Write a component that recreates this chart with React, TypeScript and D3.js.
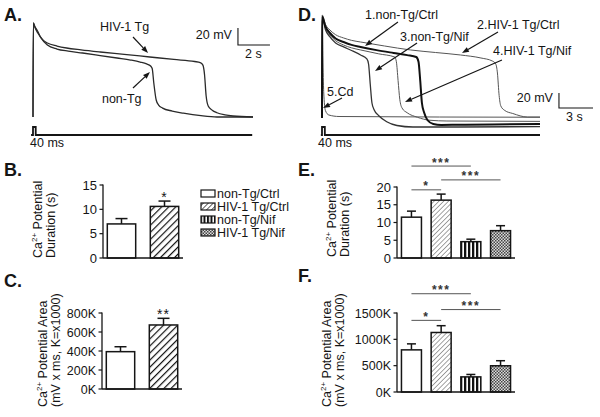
import React from 'react';
import * as d3 from 'd3';

const FONT = '"Liberation Sans", Arial, Helvetica, sans-serif';

// ---------- Panel A traces: [time (s), membrane potential (mV)] ----------
const traceA_HIV: [number, number][] = [
  [0, -80], [0.02, 30.6], [0.15, 24], [0.3, 18.8], [0.6, 11], [0.9, 7], [1.5, 3.5], [2.1, 1.2], [3, -1],
  [4.2, -3.5], [5.7, -6.3], [7.3, -9.4], [8.8, -12.3], [10.1, -14.7], [10.45, -16], [10.62, -19],
  [10.72, -30], [10.82, -55], [10.95, -67], [11.2, -72], [11.5, -75], [12, -77.5], [12.5, -78.8], [13.75, -80],
];
const traceA_nonTg: [number, number][] = [
  [0, -80], [0.02, 30.6], [0.12, 26], [0.25, 22.4], [0.5, 13], [0.9, 4.7], [1.5, 0], [2.2, -2.5], [3.1, -4.7],
  [4.2, -7.7], [5.25, -10.6], [6.1, -13], [6.7, -15.3], [7.1, -17.5], [7.35, -20], [7.45, -23], [7.55, -40],
  [7.7, -60], [7.85, -66], [8.1, -69.5], [8.7, -73], [9.4, -75.5], [10.5, -78.5], [11.5, -80], [13.75, -80],
];
const stimA: [number, number][] = [[-0.12, 0], [0, 0], [0, 1], [0.17, 1], [0.17, 0], [13.7, 0]];

// ---------- Panel D traces ----------
const traceD1: [number, number][] = [
  [0, -80], [0.02, 55], [0.3, 42], [0.7, 33.3], [1.2, 26], [1.9, 21.3], [2.6, 17.5], [3.4, 14.7], [4.8, 10.5],
  [6.3, 6.7], [7.5, 3.8], [8.3, 1.3], [8.5, -5], [8.65, -30], [8.8, -60], [9.0, -73], [9.3, -83], [9.8, -88],
  [10.5, -89.3], [12, -89], [15, -88.5], [19.2, -88],
];
const traceD2: [number, number][] = [
  [0, -80], [0.02, 57.3], [0.3, 45], [0.7, 37.3], [1.2, 31], [1.9, 26.7], [2.6, 23.5], [3.4, 21.3], [5.5, 16],
  [7.8, 10.7], [10, 7.3], [12.2, 4], [14, 0], [15.0, -4], [15.3, -8], [15.45, -20], [15.6, -50], [15.75, -64],
  [16.1, -70], [16.8, -74], [18.1, -78.7], [19.2, -78.7],
];
const traceD3: [number, number][] = [
  [0, -80], [0.02, 55], [0.3, 38], [0.7, 28], [1.2, 20], [1.9, 14.7], [2.6, 10], [3.4, 4], [3.95, -1.3],
  [4.1, -8], [4.25, -35], [4.4, -60], [4.6, -69.3], [5.0, -77], [5.7, -85], [6.6, -90], [8, -92], [12, -92], [19.2, -91.5],
];
const traceD4: [number, number][] = [
  [0, -80], [0.02, 55], [0.3, 40], [0.7, 30.7], [1.2, 23], [1.9, 17.3], [2.6, 13.5], [3.4, 10.7], [5, 5.5],
  [6.4, 1.3], [6.55, -5], [6.7, -30], [6.85, -55], [7.05, -66.7], [7.5, -73], [8.4, -79], [9.5, -83], [11, -84], [19.2, -84.5],
];
const traceD5: [number, number][] = [
  [0, -80], [0.02, 50], [0.08, 0], [0.15, -45], [0.3, -70], [0.6, -76], [1.5, -78], [19.2, -79],
];
const stimD: [number, number][] = [[-0.1, 0], [0, 0], [0, 1], [0.25, 1], [0.25, 0], [19.2, 0]];

// ---------- Bar data ----------
const groups = ['non-Tg/Ctrl', 'HIV-1 Tg/Ctrl', 'non-Tg/Nif', 'HIV-1 Tg/Nif'];
const durB = [7.0, 10.6];
const durBErr = [1.1, 1.1];
const areaC = [393, 674]; // K
const areaCErr = [52, 70];
const durE = [11.5, 16.3, 4.6, 7.7];
const durEErr = [1.7, 1.7, 0.7, 1.4];
const areaF = [800, 1130, 287, 498];
const areaFErr = [114, 129, 46, 96];
const ticksB = [0, 5, 10, 15];
const ticksC = [0, 200, 400, 600, 800];
const ticksE = [0, 5, 10, 15, 20];
const ticksF = [0, 500, 1000, 1500];
const sigE = [
  { a: 0, b: 2, level: 25.9, label: '***' },
  { a: 1, b: 3, level: 22.0, label: '***' },
  { a: 0, b: 1, level: 19.2, label: '*' },
];
const sigF = [
  { a: 0, b: 2, level: 1866, label: '***' },
  { a: 1, b: 3, level: 1565, label: '***' },
  { a: 0, b: 1, level: 1360, label: '*' },
];

const INK = '#151515';

function Arrow({ x1, y1, x2, y2 }: { x1: number; y1: number; x2: number; y2: number }) {
  const ang = Math.atan2(y2 - y1, x2 - x1);
  const L = 7, W = 2.6;
  const bx = x2 - L * Math.cos(ang), by = y2 - L * Math.sin(ang);
  const px = -Math.sin(ang) * W, py = Math.cos(ang) * W;
  return (
    <g>
      <line x1={x1} y1={y1} x2={bx} y2={by} stroke={INK} strokeWidth={1.2} />
      <path d={`M${x2},${y2}L${bx + px},${by + py}L${bx - px},${by - py}Z`} fill={INK} />
    </g>
  );
}

function TracePanel(p: {
  traces: { d: [number, number][]; color: string; w: number }[];
  stim: [number, number][];
  xDom: [number, number]; xRng: [number, number];
  yDom: [number, number]; yRng: [number, number];
  stimY: [number, number];
  labels: { text: string; t: number; v: number; from: [number, number]; to: [number, number] }[];
  bar: { t: number; v: number; mv: number; s: number; sLabel: string };
  stimLabel: [number, number];
}) {
  const x = d3.scaleLinear().domain(p.xDom).range(p.xRng);
  const y = d3.scaleLinear().domain(p.yDom).range(p.yRng);
  const ys = d3.scaleLinear().domain([0, 1]).range(p.stimY);
  const line = d3.line<[number, number]>().x(d => x(d[0])).y(d => y(d[1])).curve(d3.curveMonotoneX);
  const sline = d3.line<[number, number]>().x(d => x(d[0])).y(d => ys(d[1]));
  const bx = x(p.bar.t), by = y(p.bar.v);
  const vTop = y(p.bar.v + p.bar.mv);
  const hEnd = x(p.bar.t + p.bar.s);
  return (
    <g>
      {p.traces.map((t, i) => (
        <path key={i} d={line(t.d) || ''} fill="none" stroke={t.color} strokeWidth={t.w} strokeLinejoin="round" />
      ))}
      <path d={sline(p.stim) || ''} fill="none" stroke={INK} strokeWidth={1.8} />
      <text x={p.stimLabel[0]} y={p.stimLabel[1]} fontSize={12.5}>40 ms</text>
      {p.labels.map((l, i) => (
        <g key={i}>
          <text x={x(l.t)} y={y(l.v)} fontSize={12.5}>{l.text}</text>
          <Arrow x1={x(l.from[0])} y1={y(l.from[1])} x2={x(l.to[0])} y2={y(l.to[1])} />
        </g>
      ))}
      <path d={`M${bx},${vTop}L${bx},${by}L${hEnd},${by}`} fill="none" stroke={INK} strokeWidth={1.1} />
      <text x={bx - 6} y={by - 6} fontSize={12.5} textAnchor="end">{p.bar.mv} mV</text>
      <text x={bx + 7} y={by + 13} fontSize={12.5}>{p.bar.sLabel}</text>
    </g>
  );
}

function BarPanel(p: {
  left: number; right: number; bottom: number; top: number; max: number;
  ticks: number[]; fmt: (v: number) => string; values: number[]; errs: number[];
  fills: string[]; pi: number; po: number; cap: number; tickFont: number;
  sig?: { a: number; b: number; level: number; label: string }[];
  stars?: { i: number; label: string }[];
  ylab: [string, string]; labX: [number, number]; labY: number;
}) {
  const y = d3.scaleLinear().domain([0, p.max]).range([p.bottom, p.top]);
  const x = d3.scaleBand<number>().domain(d3.range(p.values.length)).range([p.left, p.right])
    .paddingInner(p.pi).paddingOuter(p.po);
  const bw = x.bandwidth();
  const cx = (i: number) => (x(i) as number) + bw / 2;
  return (
    <g>
      {p.values.map((v, i) => {
        const yt = y(v), ye = y(v + p.errs[i]);
        return (
          <g key={i}>
            <line x1={cx(i)} x2={cx(i)} y1={yt} y2={ye} stroke={INK} strokeWidth={1.5} />
            <line x1={cx(i) - p.cap / 2} x2={cx(i) + p.cap / 2} y1={ye} y2={ye} stroke={INK} strokeWidth={1.5} />
            <rect x={x(i)} y={yt} width={bw} height={p.bottom - yt} fill={p.fills[i]} stroke={INK} strokeWidth={1.5} />
          </g>
        );
      })}
      <line x1={p.left} x2={p.left} y1={p.bottom} y2={y(p.max) - 0.5} stroke={INK} strokeWidth={1.3} />
      <line x1={p.left} x2={p.right} y1={p.bottom} y2={p.bottom} stroke={INK} strokeWidth={1.3} />
      {p.ticks.map(t => (
        <g key={t}>
          <line x1={p.left - 3.5} x2={p.left} y1={y(t)} y2={y(t)} stroke={INK} strokeWidth={1.2} />
          <text x={p.left - 6} y={y(t)} dy="0.36em" textAnchor="end" fontSize={p.tickFont}>{p.fmt(t)}</text>
        </g>
      ))}
      {(p.sig || []).map((s, i) => (
        <g key={i}>
          <line x1={cx(s.a)} x2={cx(s.b)} y1={y(s.level)} y2={y(s.level)} stroke="#555" strokeWidth={1} />
          <text x={(cx(s.a) + cx(s.b)) / 2} y={y(s.level) + 0.5} textAnchor="middle" fontSize={12}
            fontWeight="bold" letterSpacing={1.5} fill="#333">{s.label}</text>
        </g>
      ))}
      {(p.stars || []).map((s, i) => (
        <text key={i} x={cx(s.i)} y={y(p.values[s.i] + p.errs[s.i]) + 0.5} textAnchor="middle" fontSize={14}
          letterSpacing={1}>{s.label}</text>
      ))}
      <text transform={`translate(${p.labX[0]},${p.labY}) rotate(-90)`} fontSize={12.5}>
        Ca<tspan fontSize={8} dy={-5}>2+</tspan><tspan dy={5}>{' ' + p.ylab[0]}</tspan>
      </text>
      <text transform={`translate(${p.labX[1]},${p.labY}) rotate(-90)`} fontSize={12.5}>{p.ylab[1]}</text>
    </g>
  );
}

export default function App() {
  const fillsBC = ['#fff', 'url(#hatchB)'];
  const fillsEF = ['#fff', 'url(#hatchE)', 'url(#vstripe)', 'url(#check)'];
  const legendFills = ['#fff', 'url(#hatchL)', 'url(#vstripeL)', 'url(#check)'];
  const kfmt = (v: number) => `${v}K`;
  return (
    <svg width={600} height={417} style={{ position: 'absolute', left: 0, top: 0, background: '#fff' }}
      fontFamily={FONT} fill={INK}>
      <defs>
        <pattern id="hatchB" patternUnits="userSpaceOnUse" width={5} height={5} patternTransform="rotate(45)">
          <rect width={5} height={5} fill="#fff" />
          <line x1={0} y1={0} x2={0} y2={5} stroke="#111" strokeWidth={2.4} />
        </pattern>
        <pattern id="hatchL" patternUnits="userSpaceOnUse" width={3.5} height={3.5} patternTransform="rotate(45)">
          <rect width={3.5} height={3.5} fill="#fff" />
          <line x1={0} y1={0} x2={0} y2={3.5} stroke="#222" strokeWidth={1.4} />
        </pattern>
        <pattern id="hatchE" patternUnits="userSpaceOnUse" width={3.4} height={3.4} patternTransform="rotate(45)">
          <rect width={3.4} height={3.4} fill="#fff" />
          <line x1={0} y1={0} x2={0} y2={3.4} stroke="#666" strokeWidth={1.2} />
        </pattern>
        <pattern id="vstripe" patternUnits="userSpaceOnUse" width={4} height={4}>
          <rect width={4} height={4} fill="#fff" />
          <rect x={0} width={2.3} height={4} fill="#111" />
        </pattern>
        <pattern id="vstripeL" patternUnits="userSpaceOnUse" width={3.5} height={4} x={0.5}>
          <rect width={3.5} height={4} fill="#fff" />
          <rect x={0} width={2} height={4} fill="#111" />
        </pattern>
        <pattern id="check" patternUnits="userSpaceOnUse" width={3} height={3}>
          <rect width={3} height={3} fill="#ddd" />
          <rect x={0} y={0} width={1.5} height={1.5} fill="#444" />
          <rect x={1.5} y={1.5} width={1.5} height={1.5} fill="#444" />
        </pattern>
      </defs>

      {/* Panel letters */}
      <text x={4} y={21} fontSize={18} fontWeight="bold">A.</text>
      <text x={298} y={21} fontSize={18} fontWeight="bold">D.</text>
      <text x={4} y={176} fontSize={18} fontWeight="bold">B.</text>
      <text x={298} y={176} fontSize={18} fontWeight="bold">E.</text>
      <text x={4} y={287} fontSize={18} fontWeight="bold">C.</text>
      <text x={298} y={282} fontSize={18} fontWeight="bold">F.</text>

      {/* Panel A */}
      <TracePanel
        traces={[
          { d: traceA_HIV, color: '#2a2a2a', w: 1.3 },
          { d: traceA_nonTg, color: '#2a2a2a', w: 1.3 },
        ]}
        stim={stimA}
        xDom={[0, 13.75]} xRng={[33, 253]}
        yDom={[-80, 30.6]} yRng={[117, 23]}
        stimY={[135, 127]}
        stimLabel={[30, 147]}
        labels={[
          { text: 'HIV-1 Tg', t: 4.19, v: 21.2, from: [6.25, 14.1], to: [7.19, -4.7] },
          { text: 'non-Tg', t: 4.31, v: -63.5, from: [6.25, -45.9], to: [7.31, -27.1] },
        ]}
        bar={{ t: 12.81, v: 4.7, mv: 20, s: 2, sLabel: '2 s' }}
      />

      {/* Panel D */}
      <TracePanel
        traces={[
          { d: traceD5, color: '#555', w: 1 },
          { d: traceD2, color: '#555', w: 1 },
          { d: traceD4, color: '#555', w: 1 },
          { d: traceD3, color: '#333', w: 1.3 },
          { d: traceD1, color: '#111', w: 2 },
        ]}
        stim={stimD}
        xDom={[0, 19.2]} xRng={[322, 540]}
        yDom={[-80, 57.3]} yRng={[118, 15]}
        stimY={[135, 127]}
        stimLabel={[318, 147]}
        labels={[
          { text: '1.non-Tg/Ctrl', t: 3.79, v: 52, from: [6.69, 48], to: [3.79, 16] },
          { text: '2.HIV-1 Tg/Ctrl', t: 13.65, v: 38.7, from: [15.5, 34.7], to: [12.33, 6.7] },
          { text: '3.non-Tg/Nif', t: 6.87, v: 22.7, from: [8.37, 20], to: [4.67, -17.3] },
          { text: '4.HIV-1 Tg/Nif', t: 15.06, v: 4, from: [15.85, -2.7], to: [7.31, -58.7] },
          { text: '5.Cd', t: 0.44, v: -50.7, from: [1.76, -53.3], to: [0.09, -66.7] },
        ]}
        bar={{ t: 20.87, v: -66.7, mv: 20, s: 3, sLabel: '3 s' }}
      />

      {/* Panel B */}
      <BarPanel left={103} right={183} bottom={258} top={185} max={15} ticks={ticksB} fmt={v => `${v}`}
        values={durB} errs={durBErr} fills={fillsBC} pi={0.34} po={0.1} cap={12} tickFont={13}
        stars={[{ i: 1, label: '*' }]}
        ylab={['Potential', 'Duration (s)']} labX={[42, 55]} labY={258} />

      {/* Legend */}
      {groups.map((g, i) => (
        <g key={g}>
          <rect x={201} y={190 + i * 13} width={14} height={7} fill={legendFills[i]} stroke={INK} strokeWidth={1.2} />
          <text x={217} y={197.5 + i * 13} fontSize={12.5}>{g}</text>
        </g>
      ))}

      {/* Panel C */}
      <BarPanel left={102} right={182} bottom={389} top={313} max={800} ticks={ticksC} fmt={kfmt}
        values={areaC} errs={areaCErr} fills={fillsBC} pi={0.34} po={0.1} cap={12} tickFont={12.5}
        stars={[{ i: 1, label: '**' }]}
        ylab={['Potential Area', '(mV x ms, K=x1000)']} labX={[47, 60]} labY={407} />

      {/* Panel E */}
      <BarPanel left={397} right={515} bottom={258} top={187} max={20} ticks={ticksE} fmt={v => `${v}`}
        values={durE} errs={durEErr} fills={fillsEF} pi={0.327} po={0.15} cap={9} tickFont={13}
        sig={sigE}
        ylab={['Potential', 'Duration (s)']} labX={[336, 349]} labY={257} />

      {/* Panel F */}
      <BarPanel left={397} right={515} bottom={392} top={313} max={1500} ticks={ticksF} fmt={kfmt}
        values={areaF} errs={areaFErr} fills={fillsEF} pi={0.327} po={0.15} cap={9} tickFont={12.5}
        sig={sigF}
        ylab={['Potential Area', '(mV x ms, K=x1000)']} labX={[331, 344]} labY={407} />
    </svg>
  );
}
